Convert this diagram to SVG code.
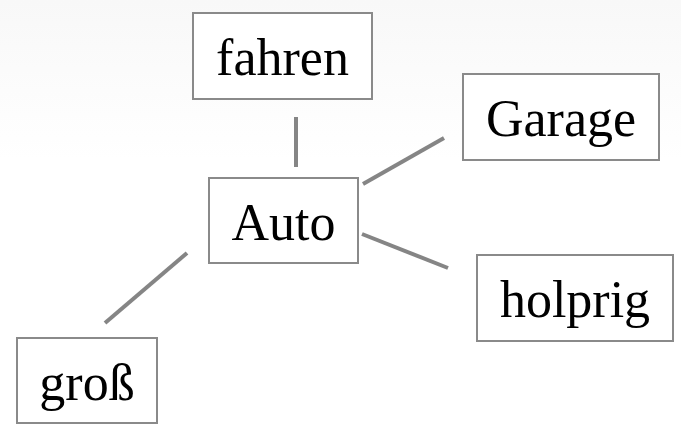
<svg xmlns="http://www.w3.org/2000/svg" width="681" height="433" viewBox="0 0 681 433">
<defs>
<linearGradient id="bg" x1="0" y1="0" x2="0" y2="160" gradientUnits="userSpaceOnUse">
<stop offset="0" stop-color="#f8f8f8"/>
<stop offset="1" stop-color="#ffffff"/>
</linearGradient>
<style>
.box{fill:#ffffff;stroke:#8a8a8a;stroke-width:2}
.lbl{font-family:"Liberation Serif","Times New Roman",serif;font-size:52px;fill:#000;text-anchor:middle}
.edge{stroke:#858585;stroke-width:4;fill:none}
</style>
</defs>
<rect x="0" y="0" width="681" height="433" fill="url(#bg)"/>
<g id="connectors">
<line class="edge" x1="296" y1="117" x2="296" y2="167"/>
<line class="edge" x1="363" y1="184" x2="444" y2="138"/>
<line class="edge" x1="362" y1="234" x2="448" y2="268"/>
<line class="edge" x1="105" y1="323" x2="187" y2="253"/>
</g>
<g id="fahren">
<rect class="box" x="193" y="13" width="179" height="86"/>
<text class="lbl" x="282.5" y="75">fahren</text>
</g>
<g id="garage">
<rect class="box" x="463" y="74" width="196" height="86"/>
<text class="lbl" x="561" y="136">Garage</text>
</g>
<g id="auto">
<rect class="box" x="209" y="178" width="149" height="85"/>
<text class="lbl" x="283.5" y="239.5">Auto</text>
</g>
<g id="holprig">
<rect class="box" x="477" y="255" width="196" height="86"/>
<text class="lbl" x="575" y="317">holprig</text>
</g>
<g id="gross">
<rect class="box" x="17" y="338" width="140" height="85"/>
<text class="lbl" x="87" y="399.5">groß</text>
</g>
</svg>
